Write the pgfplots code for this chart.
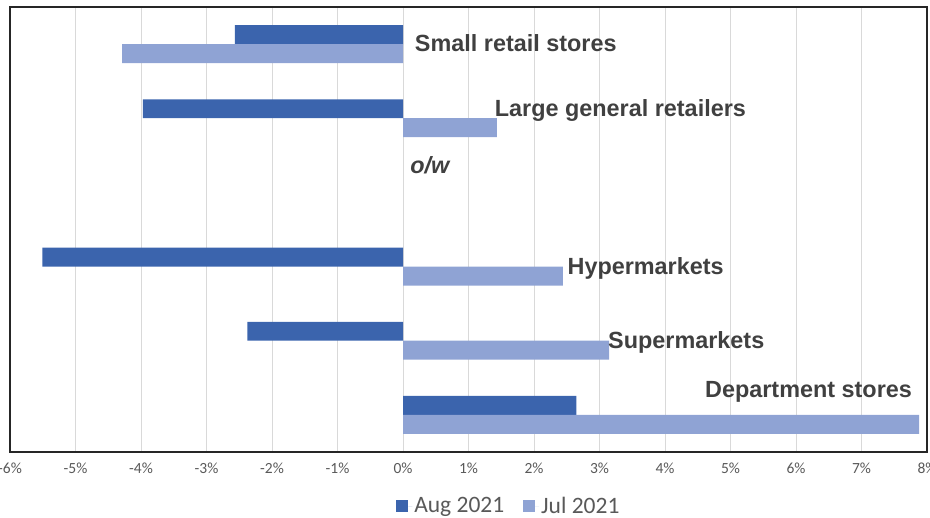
\documentclass[border=0pt]{standalone}
\usepackage{pgfplots}
\pgfplotsset{compat=1.18}
\usepackage{fontspec}
\setmainfont{Carlito}
\newfontfamily\labfont{Liberation Sans}
\definecolor{aug}{HTML}{3B64AD}
\definecolor{jul}{HTML}{8FA3D4}
\definecolor{txt}{HTML}{595959}
\definecolor{lab}{HTML}{404040}
\definecolor{grd}{HTML}{D9D9D9}
\begin{document}
\begin{tikzpicture}[x=1pt,y=1pt]
\path[use as bounding box] (-10,-66) rectangle (920,452);
\begin{axis}[
  at={(0,0)}, anchor=south west,
  scale only axis, width=917pt, height=445pt,
  xmin=-6, xmax=8, ymin=-0.5, ymax=5.5,
  xbar, bar width=0.256,
  xtick={-6,...,8},
  xticklabel={\pgfmathprintnumber{\tick}\%},
  /pgf/number format/assume math mode=true,
  xticklabel style={font=\fontsize{15.5}{15.5}\selectfont, text=txt, yshift=-7pt},
  ytick=\empty,
  major tick length=0pt,
  xmajorgrids, grid style={grd, line width=1pt},
  axis line style={draw=black!85, line width=1.2pt},
  legend style={at={(axis description cs:0.544,0)}, anchor=north, yshift=-41pt,
    draw=none, font=\fontsize{23.5}{23.5}\selectfont, text=txt,
    legend columns=2, /tikz/every even column/.append style={column sep=17pt}},
  legend image code/.code={\fill[#1] (0pt,-6pt) rectangle (12pt,6pt); \path (12pt,0pt) -- (16pt,0pt);},
]
\addplot[fill=aug, draw=none, bar shift=0.128] coordinates {(-2.565,5) (-3.97,4) (-5.505,2) (-2.376,1) (2.647,0)};
\addlegendentry{Aug 2021}
\addplot[fill=jul, draw=none, bar shift=-0.128] coordinates {(-4.29,5) (1.435,4) (2.44,2) (3.145,1) (7.88,0)};
\addlegendentry{Jul 2021}
\begin{scope}[every node/.style={anchor=west, inner sep=0pt, font=\labfont\bfseries\fontsize{23.4}{23.4}\selectfont, text=lab}]
\node at (axis cs:0.18,5.01) {Small retail stores};
\node at (axis cs:1.40,4.11) {Large general retailers};
\node at (axis cs:0.11,3.36) {\itshape o/w};
\node at (axis cs:2.51,1.98) {Hypermarkets};
\node at (axis cs:3.13,0.98) {Supermarkets};
\node at (axis cs:4.61,0.31) {Department stores};
\end{scope}
\end{axis}
\end{tikzpicture}
\end{document}
